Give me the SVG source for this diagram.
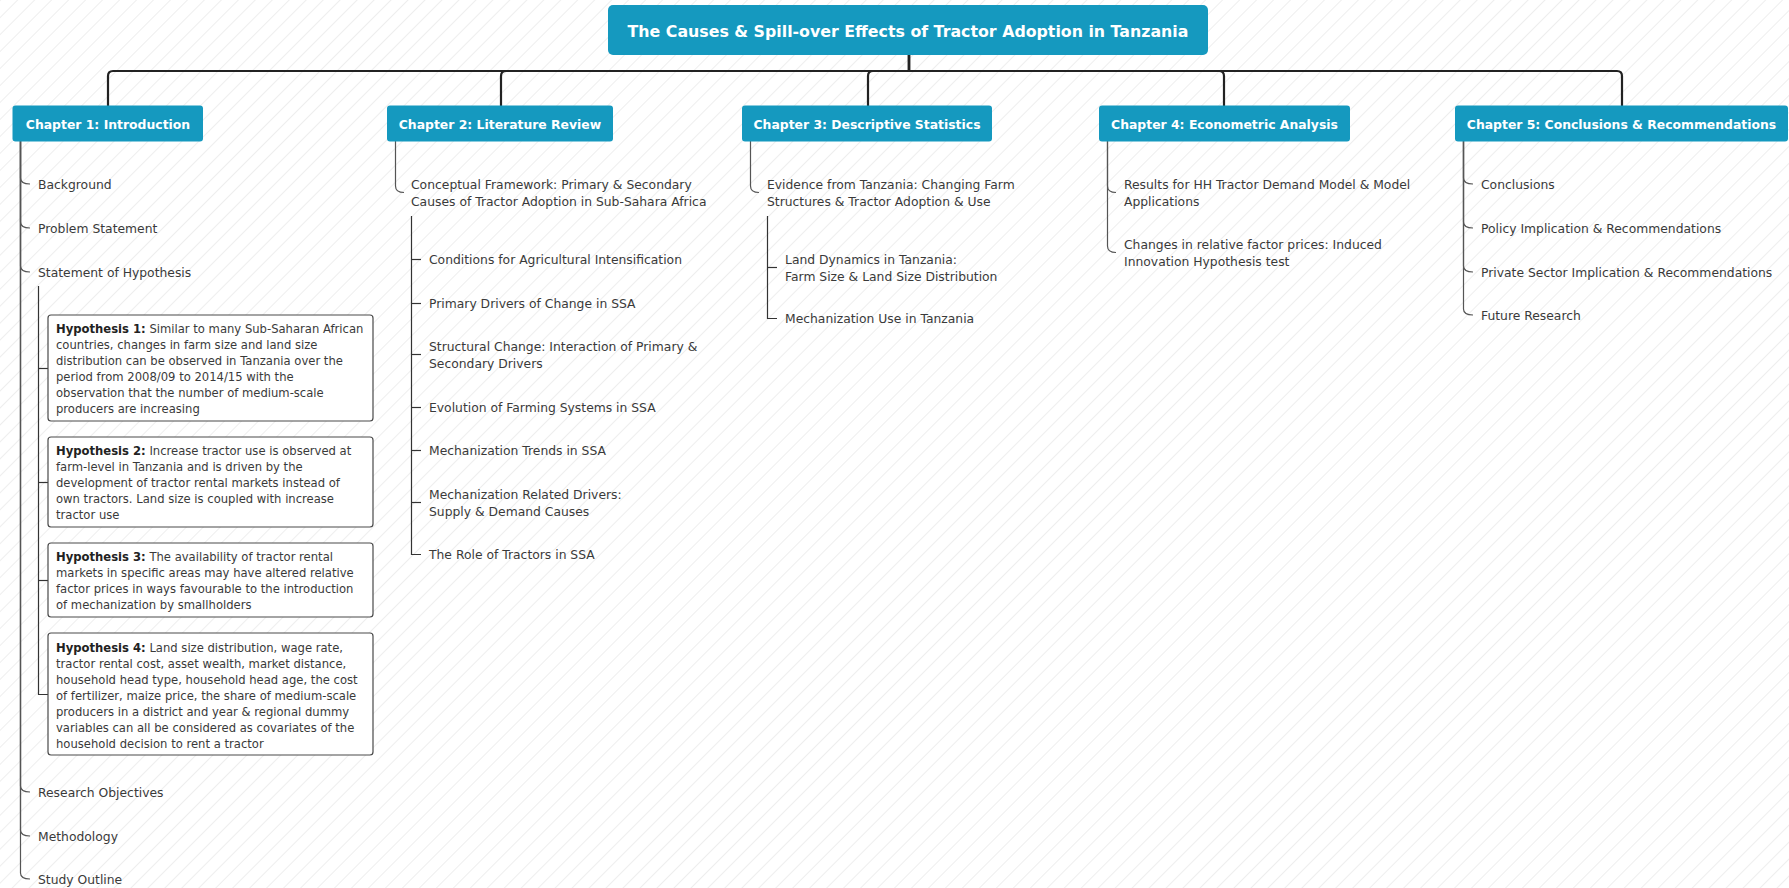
<svg xmlns="http://www.w3.org/2000/svg" width="1789" height="888" viewBox="0 0 1789 888">
<defs>
<pattern id="hatch" width="12" height="12" patternUnits="userSpaceOnUse" patternTransform="rotate(45)">
<line x1="0" y1="0" x2="0" y2="12" stroke="#e2e2e2" stroke-width="1.2"/>
</pattern>
<style>
.root{fill:#1599bf}
.chap{fill:#1599bf}
.tt{font-family:"DejaVu Sans",Verdana,sans-serif;font-weight:bold;fill:#ffffff}
.t{font-family:"DejaVu Sans",Verdana,sans-serif;font-size:12.35px;fill:#3a3a3a}
.h{font-family:"DejaVu Sans",Verdana,sans-serif;font-size:11.6px;fill:#3a3a3a}
.h tspan.b{font-weight:bold;fill:#222}
.hb{fill:#ffffff;stroke:#4a4a4a;stroke-width:1.2}
.main{fill:none;stroke:#222;stroke-width:2.2}
.l2{fill:none;stroke:#555;stroke-width:1.2}
.l3{fill:none;stroke:#333;stroke-width:1.2}
</style>
</defs>
<rect width="1789" height="888" fill="#ffffff"/>
<rect width="1789" height="888" fill="url(#hatch)"/>

<g id="connectors">
<path class="main" d="M909 55 V71 H113 Q108 71 108 76 V106"/>
<path class="main" d="M909 55 V71 H506 Q501 71 501 76 V106"/>
<path class="main" d="M909 55 V71 H873 Q868 71 868 76 V106"/>
<path class="main" d="M909 55 V71 H1219 Q1224 71 1224 76 V106"/>
<path class="main" d="M909 55 V71 H1617 Q1622 71 1622 76 V106"/>

<path class="l2" d="M20.5 141 V178 C20.5 182 23 184 30 184"/>
<path class="l2" d="M20.5 141 V222 C20.5 226 23 228 30 228"/>
<path class="l2" d="M20.5 141 V266 C20.5 270 23 272 30 272"/>
<path class="l2" d="M20.5 141 V786 C20.5 790 23 792 30 792"/>
<path class="l2" d="M20.5 141 V830 C20.5 834 23 836 30 836"/>
<path class="l2" d="M20.5 141 V873 C20.5 877 23 879 30 879"/>

<path class="l3" d="M38.5 286 V694.5 H48"/>
<path class="l3" d="M38.5 368.5 H48"/>
<path class="l3" d="M38.5 482.5 H48"/>
<path class="l3" d="M38.5 580.5 H48"/>

<path class="l2" d="M395.5 141 V186 C395.5 190 398 192.5 404 192.5"/>
<path class="l3" d="M411.5 216 V554.5 H421"/>
<path class="l3" d="M411.5 259.5 H421"/>
<path class="l3" d="M411.5 303.5 H421"/>
<path class="l3" d="M411.5 354.5 H421"/>
<path class="l3" d="M411.5 407.5 H421"/>
<path class="l3" d="M411.5 450.5 H421"/>
<path class="l3" d="M411.5 502.5 H421"/>

<path class="l2" d="M750.5 141 V186 C750.5 190 753 192.5 759 192.5"/>
<path class="l3" d="M767.5 216 V318.5 H777"/>
<path class="l3" d="M767.5 267.5 H777"/>

<path class="l2" d="M1107.5 141 V186 C1107.5 190 1110 192.5 1116 192.5"/>
<path class="l2" d="M1107.5 141 V246 C1107.5 250 1110 252.5 1116 252.5"/>

<path class="l2" d="M1463.5 141 V178 C1463.5 182 1466 184 1473 184"/>
<path class="l2" d="M1463.5 141 V222 C1463.5 226 1466 228 1473 228"/>
<path class="l2" d="M1463.5 141 V266 C1463.5 270 1466 272 1473 272"/>
<path class="l2" d="M1463.5 141 V309 C1463.5 313 1466 315 1473 315"/>
</g>

<g id="root">
<rect class="root" x="608" y="5" width="600" height="50" rx="5"/>
<text class="tt" x="908" y="36.5" font-size="15.8" text-anchor="middle">The Causes &amp; Spill-over Effects of Tractor Adoption in Tanzania</text>
</g>

<g id="ch1">
<rect class="chap" x="12.5" y="105.5" width="190.5" height="36" rx="3"/>
<text class="tt" x="108" y="128.5" font-size="12.4" text-anchor="middle">Chapter 1: Introduction</text>
</g>
<g id="ch2">
<rect class="chap" x="387" y="105.5" width="226" height="36" rx="3"/>
<text class="tt" x="500" y="128.5" font-size="12.4" text-anchor="middle">Chapter 2: Literature Review</text>
</g>
<g id="ch3">
<rect class="chap" x="742" y="105.5" width="250" height="36" rx="3"/>
<text class="tt" x="867" y="128.5" font-size="12.4" text-anchor="middle">Chapter 3: Descriptive Statistics</text>
</g>
<g id="ch4">
<rect class="chap" x="1099" y="105.5" width="251" height="36" rx="3"/>
<text class="tt" x="1224.5" y="128.5" font-size="12.4" text-anchor="middle">Chapter 4: Econometric Analysis</text>
</g>
<g id="ch5">
<rect class="chap" x="1455" y="105.5" width="333" height="36" rx="3"/>
<text class="tt" x="1621.5" y="128.5" font-size="12.4" text-anchor="middle">Chapter 5: Conclusions &amp; Recommendations</text>
</g>

<g id="ch1-background"><text class="t" x="38" y="188.5">Background</text></g>
<g id="ch1-problem"><text class="t" x="38" y="232.5">Problem Statement</text></g>
<g id="ch1-hypothesis"><text class="t" x="38" y="276.5">Statement of Hypothesis</text></g>
<g id="ch1-objectives"><text class="t" x="38" y="796.5">Research Objectives</text></g>
<g id="ch1-methodology"><text class="t" x="38" y="840.5">Methodology</text></g>
<g id="ch1-outline"><text class="t" x="38" y="883.5">Study Outline</text></g>

<g id="hyp1">
<rect class="hb" x="48" y="315" width="325" height="106" rx="3"/>
<text class="h">
<tspan x="56" y="333.2"><tspan class="b">Hypothesis 1:</tspan> Similar to many Sub-Saharan African</tspan>
<tspan x="56" y="349.2">countries, changes in farm size and land size</tspan>
<tspan x="56" y="365.2">distribution can be observed in Tanzania over the</tspan>
<tspan x="56" y="381.2">period from 2008/09 to 2014/15 with the</tspan>
<tspan x="56" y="397.2">observation that the number of medium-scale</tspan>
<tspan x="56" y="413.2">producers are increasing</tspan>
</text>
</g>
<g id="hyp2">
<rect class="hb" x="48" y="437" width="325" height="90" rx="3"/>
<text class="h">
<tspan x="56" y="455.2"><tspan class="b">Hypothesis 2:</tspan> Increase tractor use is observed at</tspan>
<tspan x="56" y="471.2">farm-level in Tanzania and is driven by the</tspan>
<tspan x="56" y="487.2">development of tractor rental markets instead of</tspan>
<tspan x="56" y="503.2">own tractors. Land size is coupled with increase</tspan>
<tspan x="56" y="519.2">tractor use</tspan>
</text>
</g>
<g id="hyp3">
<rect class="hb" x="48" y="543" width="325" height="74" rx="3"/>
<text class="h">
<tspan x="56" y="561.2"><tspan class="b">Hypothesis 3:</tspan> The availability of tractor rental</tspan>
<tspan x="56" y="577.2">markets in specific areas may have altered relative</tspan>
<tspan x="56" y="593.2">factor prices in ways favourable to the introduction</tspan>
<tspan x="56" y="609.2">of mechanization by smallholders</tspan>
</text>
</g>
<g id="hyp4">
<rect class="hb" x="48" y="633" width="325" height="122" rx="3"/>
<text class="h">
<tspan x="56" y="652.2"><tspan class="b">Hypothesis 4:</tspan> Land size distribution, wage rate,</tspan>
<tspan x="56" y="668.2">tractor rental cost, asset wealth, market distance,</tspan>
<tspan x="56" y="684.2">household head type, household head age, the cost</tspan>
<tspan x="56" y="700.2">of fertilizer, maize price, the share of medium-scale</tspan>
<tspan x="56" y="716.2">producers in a district and year &amp; regional dummy</tspan>
<tspan x="56" y="732.2">variables can all be considered as covariates of the</tspan>
<tspan x="56" y="748.2">household decision to rent a tractor</tspan>
</text>
</g>

<g id="ch2-framework"><text class="t"><tspan x="411" y="188.5">Conceptual Framework: Primary &amp; Secondary</tspan><tspan x="411" y="205.5">Causes of Tractor Adoption in Sub-Sahara Africa</tspan></text></g>
<g id="ch2-conditions"><text class="t" x="429" y="263.5">Conditions for Agricultural Intensification</text></g>
<g id="ch2-primary"><text class="t" x="429" y="307.5">Primary Drivers of Change in SSA</text></g>
<g id="ch2-structural"><text class="t"><tspan x="429" y="350.5">Structural Change: Interaction of Primary &amp;</tspan><tspan x="429" y="367.5">Secondary Drivers</tspan></text></g>
<g id="ch2-evolution"><text class="t" x="429" y="411.5">Evolution of Farming Systems in SSA</text></g>
<g id="ch2-trends"><text class="t" x="429" y="454.5">Mechanization Trends in SSA</text></g>
<g id="ch2-drivers"><text class="t"><tspan x="429" y="498.5">Mechanization Related Drivers:</tspan><tspan x="429" y="515.5">Supply &amp; Demand Causes</tspan></text></g>
<g id="ch2-role"><text class="t" x="429" y="558.5">The Role of Tractors in SSA</text></g>

<g id="ch3-evidence"><text class="t"><tspan x="767" y="188.5">Evidence from Tanzania: Changing Farm</tspan><tspan x="767" y="205.5">Structures &amp; Tractor Adoption &amp; Use</tspan></text></g>
<g id="ch3-land"><text class="t"><tspan x="785" y="263.5">Land Dynamics in Tanzania:</tspan><tspan x="785" y="280.5">Farm Size &amp; Land Size Distribution</tspan></text></g>
<g id="ch3-mech"><text class="t" x="785" y="322.5">Mechanization Use in Tanzania</text></g>

<g id="ch4-results"><text class="t"><tspan x="1124" y="188.5">Results for HH Tractor Demand Model &amp; Model</tspan><tspan x="1124" y="205.5">Applications</tspan></text></g>
<g id="ch4-changes"><text class="t"><tspan x="1124" y="248.5">Changes in relative factor prices: Induced</tspan><tspan x="1124" y="265.5">Innovation Hypothesis test</tspan></text></g>

<g id="ch5-conclusions"><text class="t" x="1481" y="188.5">Conclusions</text></g>
<g id="ch5-policy"><text class="t" x="1481" y="232.5">Policy Implication &amp; Recommendations</text></g>
<g id="ch5-private"><text class="t" x="1481" y="276.5">Private Sector Implication &amp; Recommendations</text></g>
<g id="ch5-future"><text class="t" x="1481" y="319.5">Future Research</text></g>
</svg>
